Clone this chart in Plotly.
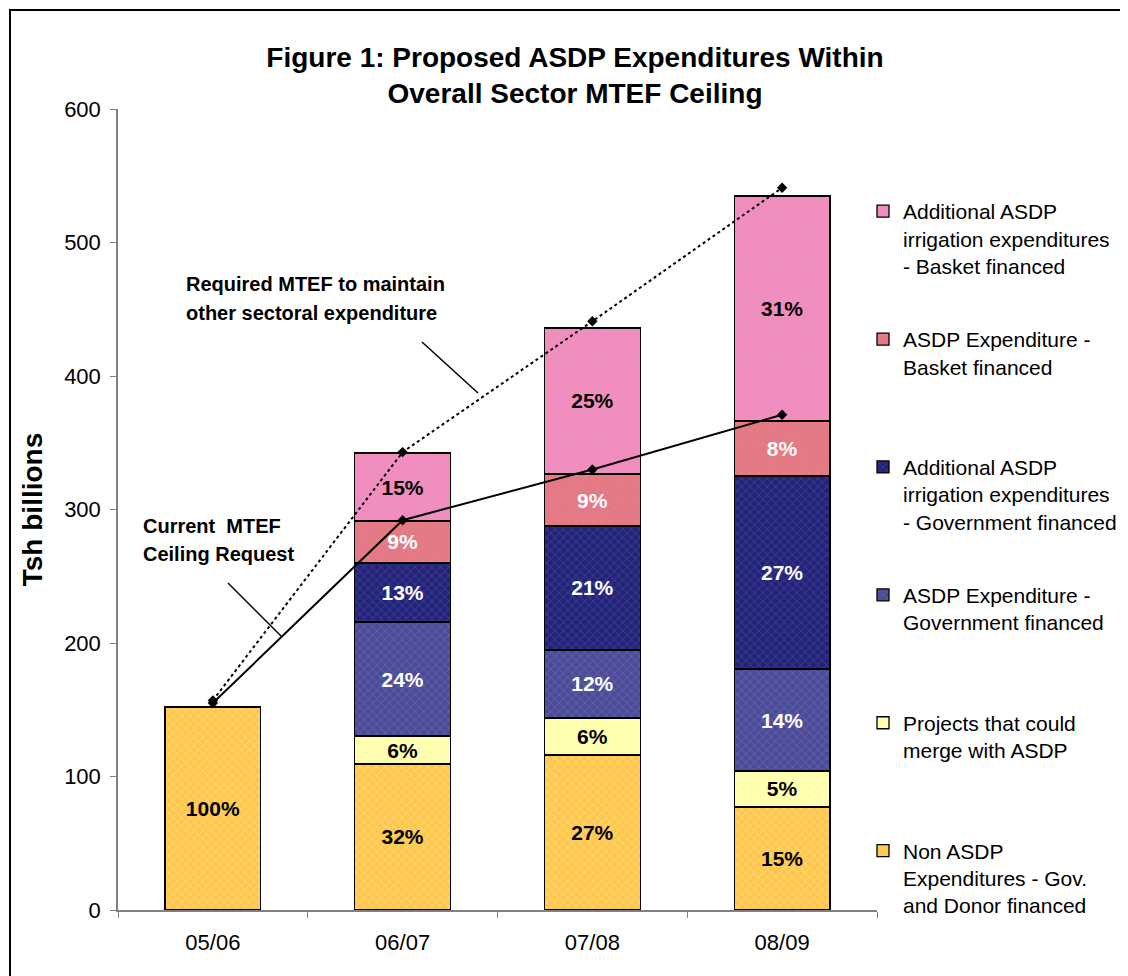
import plotly.graph_objects as go

categories = ["05/06", "06/07", "07/08", "08/09"]

non_asdp = [152, 109.4, 116.1, 77.2]
projects_merge = [0, 20.9, 27.7, 26.9]
asdp_gov = [0, 85.4, 51.0, 76.4]
add_irr_gov = [0, 44.3, 92.8, 144.6]
asdp_basket = [0, 31.4, 39.0, 41.2]
add_irr_basket = [0, 50.9, 109.4, 168.5]

pct_non_asdp = ["100%", "32%", "27%", "15%"]
pct_projects = ["", "6%", "6%", "5%"]
pct_asdp_gov = ["", "24%", "12%", "14%"]
pct_add_gov = ["", "13%", "21%", "27%"]
pct_asdp_basket = ["", "9%", "9%", "8%"]
pct_add_basket = ["", "15%", "25%", "31%"]

required_mtef = [157, 343, 441, 541]
current_mtef = [155, 292, 330, 371]

y_ticks = [0, 100, 200, 300, 400, 500, 600]

FONT = "Arial, Liberation Sans, sans-serif"

series = [
    ("Non ASDP<br>Expenditures - Gov.<br>and Donor financed", non_asdp, pct_non_asdp,
     "#FFC84A", "#FFE0A0", "black"),
    ("Projects that could<br>merge with ASDP<br> ", projects_merge, pct_projects,
     "#FFFFA6", "#FFFFE6", "black"),
    ("ASDP Expenditure -<br>Government financed<br> ", asdp_gov, pct_asdp_gov,
     "#4A4A98", "#7272B4", "white"),
    ("Additional ASDP<br>irrigation expenditures<br>- Government financed", add_irr_gov, pct_add_gov,
     "#222279", "#5050A0", "white"),
    ("ASDP Expenditure -<br>Basket financed<br> ", asdp_basket, pct_asdp_basket,
     "#EA7A80", "#C27AA6", "white"),
    ("Additional ASDP<br>irrigation expenditures<br>- Basket financed", add_irr_basket, pct_add_basket,
     "#F48CB8", "#DC98E6", "black"),
]

fig = go.Figure()
n = len(series)
for i, (name, vals, txt, col, fg, tcol) in enumerate(series):
    fig.add_trace(go.Bar(
        x=categories, y=vals, name=name, text=txt,
        textposition="inside", insidetextanchor="middle", constraintext="none",
        textangle=0,
        textfont=dict(family=FONT, size=21, color=tcol, weight="bold"),
        marker=dict(color=col, line=dict(color="black", width=1.3),
                    pattern=dict(shape="x", fgcolor=fg, size=6, solidity=0.3)),
        legendgroup=f"g{i}", legendrank=n - i,
        hoverinfo="skip",
    ))

fig.add_trace(go.Scatter(
    x=categories, y=required_mtef, mode="lines+markers",
    line=dict(color="black", width=2, dash="dot"),
    marker=dict(symbol="diamond", size=8, color="black"),
    showlegend=False, hoverinfo="skip",
))
fig.add_trace(go.Scatter(
    x=categories, y=current_mtef, mode="lines+markers",
    line=dict(color="black", width=2),
    marker=dict(symbol="diamond", size=8, color="black"),
    showlegend=False, hoverinfo="skip",
))

# page has an 8px body margin; figure sized so it fills the window
OFF = 8
W, H = 1128 - OFF, 976 - OFF
L, T = 118 - OFF, 109 - OFF
pw, ph = 759, 801
R, B = W - L - pw, H - T - ph


def px(x):
    return (x - OFF - L) / pw


def py(y):
    return (H - B - (y - OFF)) / ph


shapes = [
    dict(type="rect", xref="paper", yref="paper", x0=px(10), x1=px(1140), y0=py(10), y1=py(990),
         line=dict(color="black", width=2), fillcolor="rgba(0,0,0,0)", layer="below"),
    dict(type="line", xref="paper", yref="paper", x0=px(422), y0=py(342), x1=px(478), y1=py(393),
         line=dict(color="black", width=1.5)),
    dict(type="line", xref="paper", yref="paper", x0=px(228), y0=py(583), x1=px(282), y1=py(637),
         line=dict(color="black", width=1.5)),
]

ann_font = dict(family=FONT, size=20, color="black", weight="bold")
annotations = [
    dict(text="Required MTEF to maintain", x=px(184), y=py(284), xref="paper", yref="paper",
         xanchor="left", yanchor="middle", showarrow=False, font=ann_font),
    dict(text="other sectoral expenditure", x=px(184), y=py(313), xref="paper", yref="paper",
         xanchor="left", yanchor="middle", showarrow=False, font=ann_font),
    dict(text="Current  MTEF", x=px(141), y=py(526), xref="paper", yref="paper",
         xanchor="left", yanchor="middle", showarrow=False, font=ann_font),
    dict(text="Ceiling Request", x=px(141), y=py(554), xref="paper", yref="paper",
         xanchor="left", yanchor="middle", showarrow=False, font=ann_font),
]

fig.update_layout(
    width=W, height=H,
    margin=dict(l=L, r=R, t=T, b=B, autoexpand=False),
    paper_bgcolor="white", plot_bgcolor="white",
    barmode="stack", bargap=0.495,
    font=dict(family=FONT, size=21, color="black"),
    title=dict(text="Figure 1: Proposed ASDP Expenditures Within<br>Overall Sector MTEF Ceiling",
               xref="container", x=(575 - OFF) / W, xanchor="center",
               yref="container", y=1 - (67 - OFF) / H, yanchor="middle",
               font=dict(family=FONT, size=28, color="black", weight="bold")),
    xaxis=dict(showline=True, linecolor="#808080", linewidth=1.5, ticks="outside",
               tickson="boundaries", tickcolor="#808080", ticklen=6, ticklabelstandoff=12,
               tickfont=dict(family=FONT, size=22, color="black"), showgrid=False),
    yaxis=dict(range=[0, 600], tickvals=y_ticks, showline=True, linecolor="#808080", linewidth=1.5,
               ticks="outside", tickcolor="#808080", ticklen=6, showgrid=False, zeroline=False,
               ticklabelstandoff=5,
               tickfont=dict(family=FONT, size=22, color="black"),
               title=dict(text="Tsh billions", standoff=13,
                          font=dict(family=FONT, size=28, color="black", weight="bold"))),
    legend=dict(x=px(863), y=py(191), xanchor="left", yanchor="top",
                traceorder="grouped", tracegroupgap=43, valign="top",
                font=dict(family=FONT, size=21, color="black"), itemwidth=30,
                bgcolor="rgba(0,0,0,0)"),
    shapes=shapes, annotations=annotations,
)

fig.write_html("out.html")
